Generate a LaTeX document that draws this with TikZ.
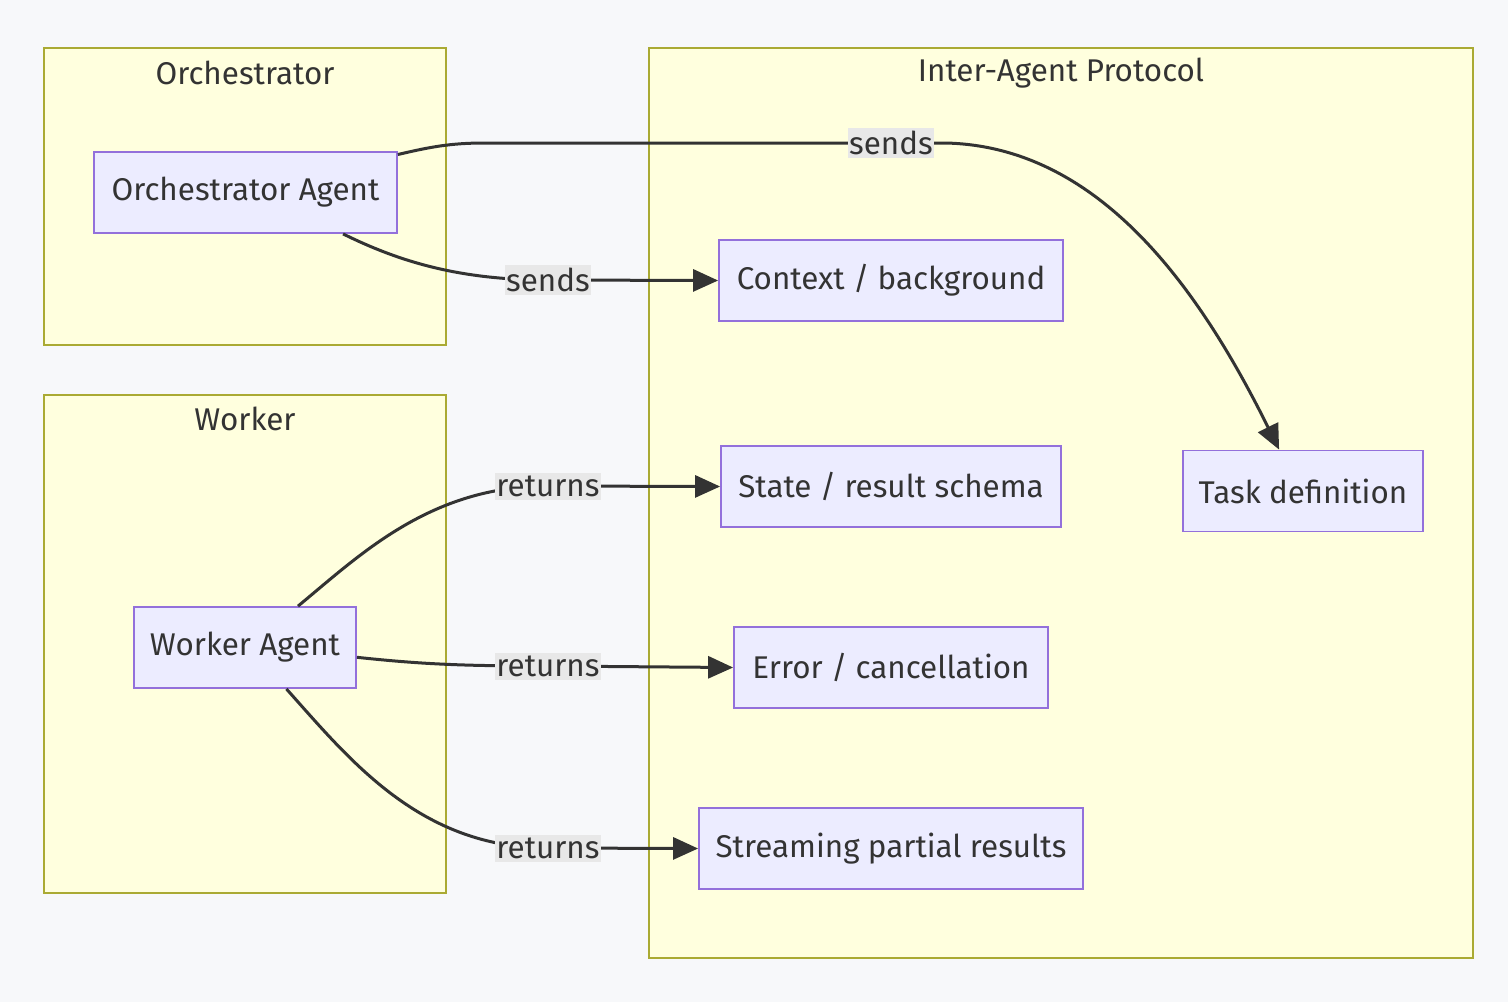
\documentclass[tikz,border=0pt]{standalone}
\usepackage{fontspec}
\setmainfont{Fira Sans}
\usepackage{xcolor}
\usetikzlibrary{positioning, arrows.meta, calc}

\definecolor{pagebg}{HTML}{F7F8FA}
\definecolor{clusterfill}{HTML}{FFFFDE}
\definecolor{clusterline}{HTML}{AAAA33}
\definecolor{agentfill}{HTML}{ECECFF}
\definecolor{agentline}{HTML}{9370DB}
\definecolor{inkgray}{HTML}{333333}
\definecolor{labelbg}{HTML}{E8E8E8}

\begin{document}
\begin{tikzpicture}[
    x=0.5pt, y=-0.5pt,
    every node/.style={font=\fontsize{15.7}{18}\selectfont, text=inkgray},
    cluster/.style={draw=clusterline, fill=clusterfill, line width=0.8pt},
    ctitle/.style={inner sep=0pt},
    agent/.style={rectangle, draw=agentline, fill=agentfill, line width=0.9pt, minimum height=40.5pt, inner xsep=7pt},
    arr/.style={-{Triangle[length=12.5pt, width=11pt]}, line width=1.5pt, draw=inkgray},
    elabel/.style={fill=labelbg, inner xsep=0.5pt, inner ysep=1.5pt},
]
% page and bounding box
\fill[pagebg] (0,0) rectangle (1508,1002);
\useasboundingbox (0,0) rectangle (1508,1002);

% subgraphs
\draw[cluster] (44,48) rectangle (446,345);
\draw[cluster] (44,395) rectangle (446,893);
\draw[cluster] (649,48) rectangle (1473,958);
\node[ctitle] (orchtitle) at (245,73) {Orchestrator};
\node[ctitle] (workertitle) at (245,419) {Worker};
\node[ctitle] (prototitle) at (1061,73) {Inter-Agent Protocol};

% agents
\node[agent, minimum width=151.5pt] (orch) at (245.5,192.5) {Orchestrator Agent};
\node[agent, minimum width=111pt] (worker) at (245,647.5) {Worker Agent};

% protocol messages
\node[agent, minimum width=172pt] (ctx) at (891,280.5) {Context / background};
\node[agent, minimum width=120pt] (task) at (1303,491) {Task definition};
\node[agent, minimum width=170pt] (state) at (891,486.5) {State / result schema};
\node[agent, minimum width=157pt] (err) at (891,667.5) {Error / cancellation};
\node[agent, minimum width=192pt] (stream) at (891,848.5) {Streaming partial results};

% label anchors on the edges
\coordinate (ls1) at (891,143);
\coordinate (ls2) at (548,280);
\coordinate (lr1) at (548,486);
\coordinate (lr2) at (548,666);
\coordinate (lr3) at (548,848);

% orchestrator sends
\draw[arr] (orch.14) .. controls (430,147) and (450,143) .. (485,143)
    -- (ls1) -- (945,143) .. controls (1100,146) and (1200,290) .. (task.120);
\draw[arr] (orch.-23) .. controls (400,262) and (460,280) .. (ls2) -- (ctx.west);

% worker returns
\draw[arr] (worker.38) .. controls (360,555) and (430,486) .. (lr1) -- (state.west);
\draw[arr] (worker.-5) .. controls (420,664) and (460,666) .. (lr2) -- (err.west);
\draw[arr] (worker.-45) .. controls (350,760) and (420,848) .. (lr3) -- (stream.west);

% edge labels
\node[elabel] (sendtask) at (ls1) {sends};
\node[elabel] (sendctx) at (ls2) {sends};
\node[elabel] (retstate) at (lr1) {returns};
\node[elabel] (reterr) at (lr2) {returns};
\node[elabel] (retstream) at (lr3) {returns};

\end{tikzpicture}
\end{document}
